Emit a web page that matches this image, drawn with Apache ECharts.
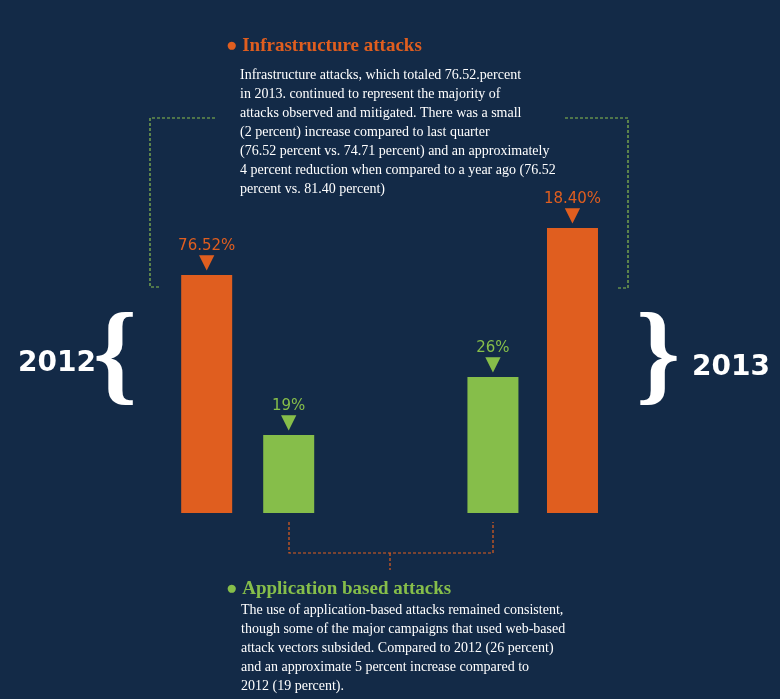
<!DOCTYPE html>
<html><head><meta charset="utf-8">
<script src="https://cdn.jsdelivr.net/npm/echarts@6/dist/echarts.min.js"></script>
<style>html,body{margin:0;background:#132a47}#c{width:780px;height:699px}</style>
</head><body><div id="c"></div>
<script>
// bar heights as drawn (the infographic is not to scale)
const positions = [0, 1, 3.49, 4.46];
const heights = [238, 78, 136, 285];
const labels = ["76.52%", "19%", "26%", "18.40%"];
const colors = ["#e05e1f", "#86be4a", "#86be4a", "#e05e1f"];

const infraText = [
  "Infrastructure attacks, which totaled 76.52.percent",
  "in 2013. continued to represent the majority of",
  "attacks observed and mitigated. There was a small",
  "(2 percent) increase compared to last quarter",
  "(76.52 percent vs. 74.71 percent) and an approximately",
  "4 percent reduction when compared to a year ago (76.52",
  "percent vs. 81.40 percent)",
];
const appText = [
  "The use of application-based attacks remained consistent,",
  "though some of the major campaigns that used web-based",
  "attack vectors subsided. Compared to 2012 (26 percent)",
  "and an approximate 5 percent increase compared to",
  "2012 (19 percent).",
];

const serif = "Liberation Serif";
const dashG = { stroke: "#8cc04f", lineWidth: 1.2, lineDash: [3, 2] };
const dashO = { stroke: "#e05e1f", lineWidth: 1.2, lineDash: [3, 2] };
const graphic = [
  { type: "text", left: 226, top: 37, style: { text: "● Infrastructure attacks", fill: "#e05e1f", font: `bold 19px "${serif}"` } },
  { type: "text", left: 240, top: 66, style: { text: infraText.join("\n"), fill: "#fff", font: `14px "${serif}"`, lineHeight: 19 } },
  { type: "text", left: 226, top: 580, style: { text: "● Application based attacks", fill: "#86be4a", font: `bold 19px "${serif}"` } },
  { type: "text", left: 241, top: 601, style: { text: appText.join("\n"), fill: "#fff", font: `14px "${serif}"`, lineHeight: 19 } },
  { type: "text", left: 18, top: 350, style: { text: "2012", fill: "#fff", font: 'bold 28px "DejaVu Sans"' } },
  { type: "text", left: 692, top: 354, style: { text: "2013", fill: "#fff", font: 'bold 28px "DejaVu Sans"' } },
  { type: "text", left: 93, top: 305, style: { text: "{", fill: "#fff", stroke: "#132a47", font: `bold 112px "${serif}"` } },
  { type: "text", left: 636, top: 305, style: { text: "}", fill: "#fff", font: `bold 112px "${serif}"` } },
  { type: "polyline", shape: { points: [[215, 118], [150, 118], [150, 287], [160, 287]] }, style: Object.assign({ fill: null }, dashG) },
  { type: "polyline", shape: { points: [[565, 118], [628, 118], [628, 288], [618, 288]] }, style: Object.assign({ fill: null }, dashG) },
  { type: "polyline", shape: { points: [[289, 522], [289, 553], [493, 553], [493, 522]] }, style: Object.assign({ fill: null }, dashO) },
  { type: "line", shape: { x1: 390, y1: 553, x2: 390, y2: 570 }, style: dashO },
];

const chart = echarts.init(document.getElementById("c"));
chart.setOption({
  animation: false,
  backgroundColor: "#132a47",
  grid: { left: 0, right: 0, top: 0, bottom: 186 },
  xAxis: { type: "value", min: -2.52, max: 6.99, show: false },
  yAxis: { type: "value", min: 0, max: 513, show: false },
  graphic,
  series: [{
    type: "bar",
    barWidth: 51,
    data: positions.map((x, i) => ({ value: [x, heights[i]], itemStyle: { color: colors[i] } })),
    label: {
      show: true,
      position: "top",
      distance: 4,
      formatter: (p) => `{t|${labels[p.dataIndex]}}\n{a|▼}`,
      rich: {
        t: { fontFamily: "DejaVu Sans", fontSize: 15, lineHeight: 18 },
        a: { fontSize: 20, lineHeight: 16, fontFamily: "DejaVu Sans" },
      },
    },
  }],
});
// colour labels to match bars
chart.setOption({ series: [{ data: positions.map((x, i) => ({ value: [x, heights[i]], itemStyle: { color: colors[i] }, label: { color: colors[i] } })) }] });
</script></body></html>
